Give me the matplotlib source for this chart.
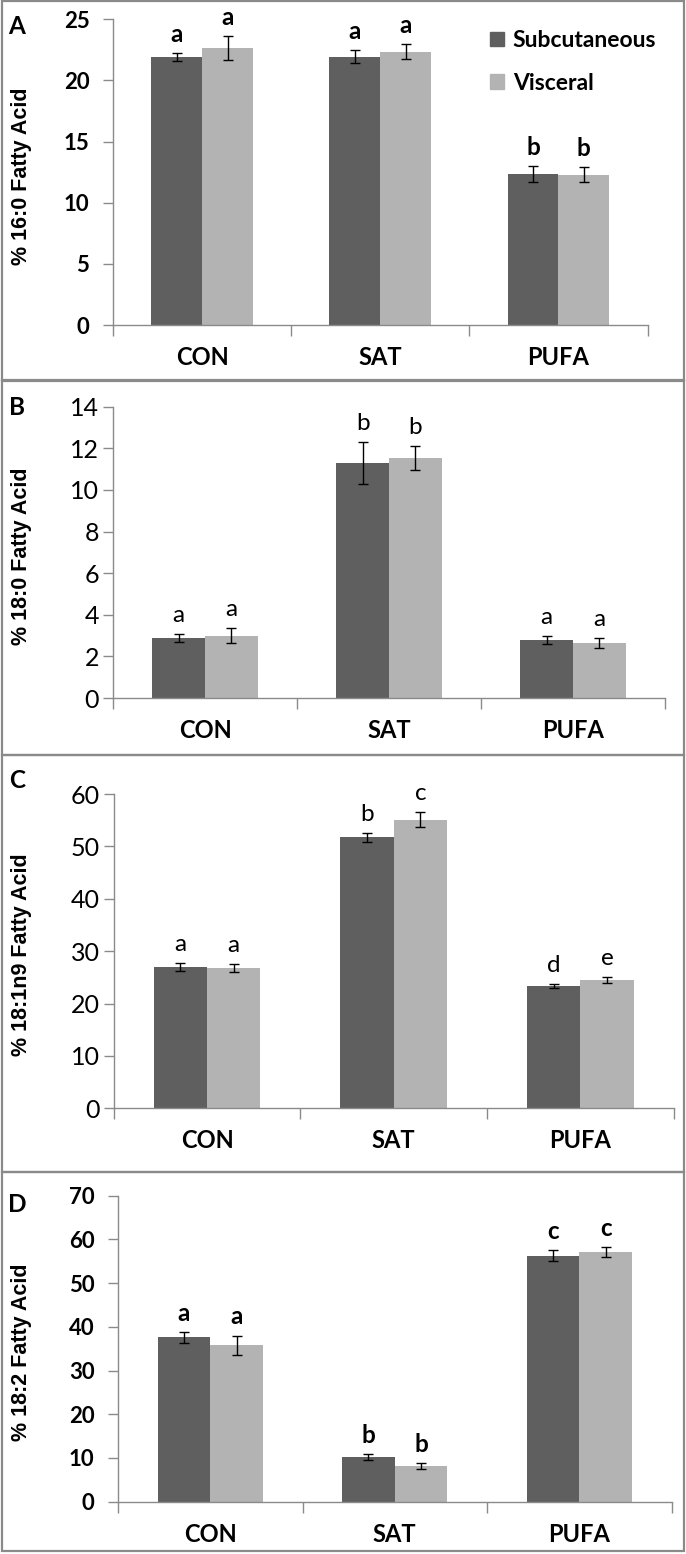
from __future__ import annotations

import matplotlib

matplotlib.use("Agg")
import matplotlib.pyplot as plt
import numpy as np
from matplotlib.patches import Rectangle

# ---- data -----------------------------------------------------------------
groups = ["CON", "SAT", "PUFA"]
series = ["Subcutaneous", "Visceral"]

fa16_sub = [21.9, 21.95, 12.35]
fa16_sub_err = [0.35, 0.53, 0.63]
fa16_vis = [22.65, 22.35, 12.3]
fa16_vis_err = [1.0, 0.6, 0.64]
fa16_letters = [["a", "a", "b"], ["a", "a", "b"]]

fa18_sub = [2.88, 11.28, 2.78]
fa18_sub_err = [0.2, 1.0, 0.18]
fa18_vis = [3.0, 11.52, 2.64]
fa18_vis_err = [0.35, 0.58, 0.24]
fa18_letters = [["a", "b", "a"], ["a", "b", "a"]]

fa181_sub = [27.0, 51.7, 23.4]
fa181_sub_err = [0.7, 0.8, 0.35]
fa181_vis = [26.8, 55.1, 24.5]
fa181_vis_err = [0.7, 1.4, 0.6]
fa181_letters = [["a", "b", "d"], ["a", "c", "e"]]

fa182_sub = [37.6, 10.3, 56.3]
fa182_sub_err = [1.26, 0.65, 1.2]
fa182_vis = [35.8, 8.15, 57.1]
fa182_vis_err = [2.2, 0.7, 1.15]
fa182_letters = [["a", "b", "c"], ["a", "b", "c"]]

# ---- style ----------------------------------------------------------------
W, H = 686, 1554
DARK = "#5f5f5f"
LIGHT = "#b3b3b3"
AXIS = "#8a8a8a"
NARROW = ["Lato", "DejaVu Sans"]
SANS = ["Liberation Sans", "DejaVu Sans"]


def px_axes(fig, left, top, right, bottom):
    return fig.add_axes([left / W, 1 - bottom / H, (right - left) / W, (bottom - top) / H])


def panel(fig, box, ylabel, ymax, ystep, sub, sub_err, vis, vis_err, letters, bold):
    ax = px_axes(fig, *box)
    x = np.arange(len(groups))
    w = 1 / 3.5
    kw = dict(ecolor="black", capsize=3.3, error_kw=dict(elinewidth=1.0, capthick=1.0), zorder=2)
    ax.bar(x - w / 2, sub, w, yerr=sub_err, color=DARK, label=series[0], **kw)
    ax.bar(x + w / 2, vis, w, yerr=vis_err, color=LIGHT, label=series[1], **kw)

    weight = "bold" if bold else "normal"
    for xs, vals, errs, labs in [(x - w / 2, sub, sub_err, letters[0]), (x + w / 2, vis, vis_err, letters[1])]:
        for xi, v, e, lab in zip(xs, vals, errs, labs):
            ax.annotate(lab, (xi, v + e), xytext=(0, 13.5), textcoords="offset points",
                        ha="center", va="center", fontsize=17.5, fontweight=weight, family=NARROW)

    ax.set_xlim(-0.5, len(groups) - 0.5)
    ax.set_ylim(0, ymax)
    ax.set_yticks(np.arange(0, ymax + 0.01, ystep))
    ax.set_xticks(np.arange(-0.5, len(groups)), minor=False)
    ax.set_xticklabels([])
    ax.set_xticks(x, minor=True)
    ax.set_xticklabels(groups, minor=True, fontsize=17, fontweight="bold", family=NARROW)
    ax.tick_params(axis="x", which="major", direction="out", length=8, color=AXIS, width=1)
    ax.tick_params(axis="x", which="minor", length=0, pad=15)
    ax.tick_params(axis="y", direction="out", length=7, color=AXIS, width=1,
                   pad=10 if bold else 3)
    for t in ax.get_yticklabels():
        t.set_fontsize(16 if bold else 18)
        t.set_family(NARROW)
        t.set_fontweight(weight)
    for side in ["top", "right"]:
        ax.spines[side].set_visible(False)
    for side in ["left", "bottom"]:
        ax.spines[side].set_color(AXIS)
        ax.spines[side].set_linewidth(1)

    top_px, bot_px = box[1], box[3]
    fig.text(22 / W, 1 - ((top_px + bot_px) / 2 + 4) / H, ylabel, rotation=90, ha="center",
             va="center", fontsize=15.5, fontweight="bold", family=SANS)
    return ax


def main() -> None:
    fig = plt.figure(figsize=(W / 100, H / 100), dpi=100)

    # panel frames
    for top, bottom in [(1, 380.5), (380.5, 755), (755, 1171.5), (1171.5, 1551)]:
        fig.patches.append(Rectangle((2 / W, 1 - bottom / H), 682 / W, (bottom - top) / H,
                                     transform=fig.transFigure, fill=False,
                                     edgecolor=AXIS, linewidth=1.6))

    panel(fig, (113, 19.3, 647.5, 325), "% 16:0 Fatty Acid", 25, 5,
          fa16_sub, fa16_sub_err, fa16_vis, fa16_vis_err, fa16_letters, True)
    panel(fig, (113, 406.7, 665, 698), "% 18:0 Fatty Acid", 14, 2,
          fa18_sub, fa18_sub_err, fa18_vis, fa18_vis_err, fa18_letters, False)
    panel(fig, (113.7, 794, 673.7, 1108.3), "% 18:1n9 Fatty Acid", 60, 10,
          fa181_sub, fa181_sub_err, fa181_vis, fa181_vis_err, fa181_letters, False)
    panel(fig, (118, 1195.7, 671.5, 1501.7), "% 18:2 Fatty Acid", 70, 10,
          fa182_sub, fa182_sub_err, fa182_vis, fa182_vis_err, fa182_letters, True)

    for letter, y in [("A", 26), ("B", 408), ("C", 781), ("D", 1204)]:
        fig.text(17 / W, 1 - y / H, letter, ha="center", va="center", fontsize=17.5,
                 fontweight="bold", family=NARROW)

    # legend (panel A, top right)
    handles = [Rectangle((0, 0), 1, 1, color=c) for c in (DARK, LIGHT)]
    fig.legend(handles, series, loc="upper left", bbox_to_anchor=(490 / W, 1 - 30 / H),
               frameon=False, handlelength=0.6, handleheight=0.6, handletextpad=0.4,
               labelspacing=0.95, borderpad=0, borderaxespad=0,
               prop=dict(size=16.5, weight="bold", family=NARROW))

    fig.savefig("out.png", dpi=100)
    plt.close(fig)


if __name__ == "__main__":
    main()
